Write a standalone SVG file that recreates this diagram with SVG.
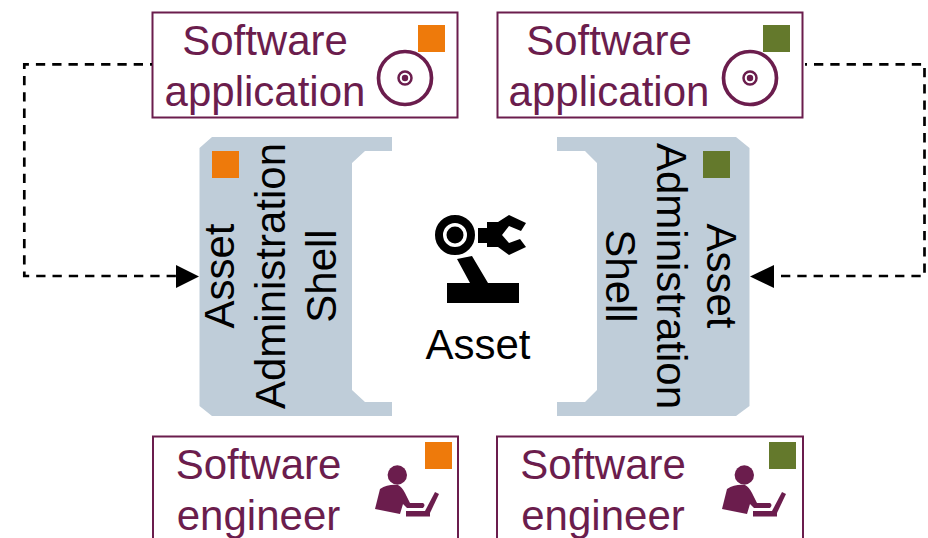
<svg xmlns="http://www.w3.org/2000/svg" width="928" height="538" viewBox="0 0 928 538">
<style>
text{font-family:"Liberation Sans",Arial,sans-serif;font-size:42px}
.m{fill:#6b1d4d}
.k{fill:#000}
.box{fill:#fff;stroke:#6b1d4d;stroke-width:2}
.aas{fill:#bfcdd9}
.or{fill:#ee7a0b}
.gr{fill:#64792c}
.con{fill:none;stroke:#000;stroke-width:2.700;stroke-dasharray:9.300 7;stroke-dashoffset:7.300}
.ic{fill:none;stroke:#6b1d4d}
</style>
<defs>
<g id="disc"><circle r="26.500" class="ic" stroke-width="3.700"/><circle r="6.500" class="ic" stroke-width="2.500"/><circle r="3.200" class="m"/></g>
<g id="eng" class="m"><circle cx="37.300" cy="45" r="9.700"/><path d="M20 59Q28 54 38 55Q42 57 45 63L50 73L63 73Q66 75 63 78L47 78L43 74L40 84L15 79Z"/><rect x="46" y="81" width="24" height="5.500"/><path d="M65 81L75 62L79 64L70 83Z"/></g>
</defs>
<g id="app-left"><rect class="box" x="152.500" y="12.500" width="305" height="105"/><text class="m" x="265" y="55" text-anchor="middle">Software</text><text class="m" x="265" y="106" text-anchor="middle">application</text><rect class="or" x="418" y="25" width="27" height="27"/><use href="#disc" x="405" y="78"/></g>
<g id="app-right"><rect class="box" x="497.500" y="12.500" width="305" height="105"/><text class="m" x="609" y="55" text-anchor="middle">Software</text><text class="m" x="609" y="106" text-anchor="middle">application</text><rect class="gr" x="763" y="25" width="27" height="27"/><use href="#disc" x="750" y="78"/></g>
<g id="aas-left"><path class="aas" d="M212 137H392V151H365L352 163V390L365 402H392V416H212L199.500 406V148Z"/><rect class="or" x="212" y="151" width="27" height="27"/><g text-anchor="middle"><text class="k" transform="translate(234 276) rotate(-90)">Asset</text><text class="k" transform="translate(285 276) rotate(-90)">Administration</text><text class="k" transform="translate(336 276) rotate(-90)">Shell</text></g></g>
<g id="aas-right"><path class="aas" d="M557 137H736L749.500 148V406L736 416H557V402H585L597 390V163L585 151H557Z"/><rect class="gr" x="703" y="151" width="27" height="27"/><g text-anchor="middle"><text class="k" transform="translate(707 276) rotate(90)">Asset</text><text class="k" transform="translate(657 276) rotate(90)">Administration</text><text class="k" transform="translate(606 276) rotate(90)">Shell</text></g></g>
<g id="asset"><circle cx="455" cy="235" r="16" fill="none" stroke="#000" stroke-width="8"/><circle cx="455" cy="235" r="8.500" class="k"/><path class="k" d="M457 259L472 256L488 283H470ZM447 283H519V303H447ZM478 228H487V222H498L509 215 526 223 521 231 509 226 502 235 509 243 520 239 526 247 509 255 498 247H487V243H478Z"/><text class="k" x="478" y="359" text-anchor="middle">Asset</text></g>
<g id="eng-left"><path class="box" d="M153 538V436.500H458V538"/><text class="m" x="258.500" y="479" text-anchor="middle">Software</text><text class="m" x="258.500" y="530" text-anchor="middle">engineer</text><rect class="or" x="425" y="442" width="27" height="27"/><use href="#eng" x="360" y="430"/></g>
<g id="eng-right"><path class="box" d="M497 538V436.500H803V538"/><text class="m" x="603" y="479" text-anchor="middle">Software</text><text class="m" x="603" y="530" text-anchor="middle">engineer</text><rect class="gr" x="769" y="442" width="27" height="27"/><use href="#eng" x="707" y="430"/></g>
<g id="connectors"><path class="con" d="M152 64.300H24.300V276H178"/><path class="k" d="M176 265L199 276.500 176 288Z"/><path class="con" d="M805 64.300H924.500V276H773"/><path class="k" d="M774 265L750 276.500 774 288Z"/></g>
</svg>
